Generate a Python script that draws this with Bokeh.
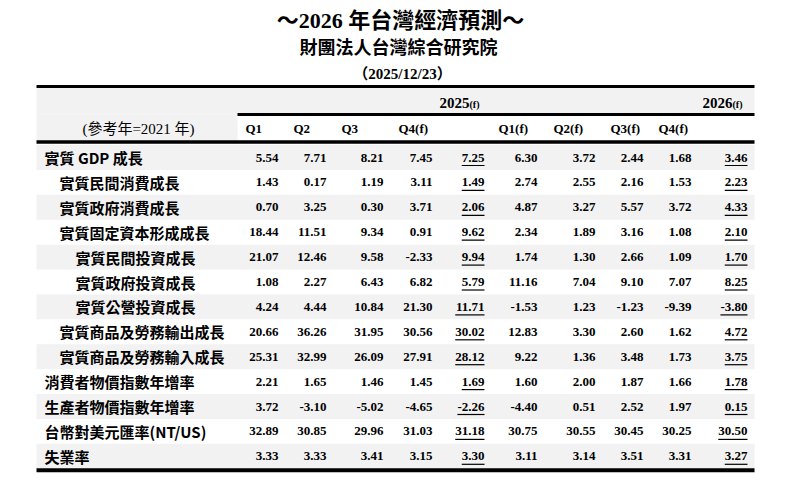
from bokeh.plotting import figure
from bokeh.models import Range1d, ColumnDataSource
from bokeh.core.properties import value
from bokeh.embed import file_html
from bokeh.resources import INLINE

# ---------------- data ----------------
title = "～2026 年台灣經濟預測～"
subtitle = "財團法人台灣綜合研究院"
date_text = "（2025/12/23）"
base_note = "(參考年=2021 年)"
year_heads = ["2025", "2026"]
quarter_heads = ["Q1", "Q2", "Q3", "Q4(f)", "Q1(f)", "Q2(f)", "Q3(f)", "Q4(f)"]

row_labels = ["實質 GDP 成長", "實質民間消費成長", "實質政府消費成長", "實質固定資本形成成長",
              "實質民間投資成長", "實質政府投資成長", "實質公營投資成長",
              "實質商品及勞務輸出成長", "實質商品及勞務輸入成長",
              "消費者物價指數年增率", "生產者物價指數年增率", "台幣對美元匯率(NT/US)", "失業率"]
row_levels = [0, 1, 1, 1, 2, 2, 2, 1, 1, 0, 0, 0, 0]

q1_2025 = [5.54, 1.43, 0.70, 18.44, 21.07, 1.08, 4.24, 20.66, 25.31, 2.21, 3.72, 32.89, 3.33]
q2_2025 = [7.71, 0.17, 3.25, 11.51, 12.46, 2.27, 4.44, 36.26, 32.99, 1.65, -3.10, 30.85, 3.33]
q3_2025 = [8.21, 1.19, 0.30, 9.34, 9.58, 6.43, 10.84, 31.95, 26.09, 1.46, -5.02, 29.96, 3.41]
q4_2025 = [7.45, 3.11, 3.71, 0.91, -2.33, 6.82, 21.30, 30.56, 27.91, 1.45, -4.65, 31.03, 3.15]
year_2025 = [7.25, 1.49, 2.06, 9.62, 9.94, 5.79, 11.71, 30.02, 28.12, 1.69, -2.26, 31.18, 3.30]
q1_2026 = [6.30, 2.74, 4.87, 2.34, 1.74, 11.16, -1.53, 12.83, 9.22, 1.60, -4.40, 30.75, 3.11]
q2_2026 = [3.72, 2.55, 3.27, 1.89, 1.30, 7.04, 1.23, 3.30, 1.36, 2.00, 0.51, 30.55, 3.14]
q3_2026 = [2.44, 2.16, 5.57, 3.16, 2.66, 9.10, -1.23, 2.60, 3.48, 1.87, 2.52, 30.45, 3.51]
q4_2026 = [1.68, 1.53, 3.72, 1.08, 1.09, 7.07, -9.39, 1.62, 1.73, 1.66, 1.97, 30.25, 3.31]
year_2026 = [3.46, 2.23, 4.33, 2.10, 1.70, 8.25, -3.80, 4.72, 3.75, 1.78, 0.15, 30.50, 3.27]

columns = [q1_2025, q2_2025, q3_2025, q4_2025, year_2025,
           q1_2026, q2_2026, q3_2026, q4_2026, year_2026]
underlined = [False, False, False, False, True, False, False, False, False, True]

# ---------------- layout (page pixels) ----------------
W, H = 784, 474
TL, TR = 36, 754                 # table left / right
col_right = [278, 326, 383, 432, 484, 537, 595, 643, 691, 747]
head_left = [245, 293, 341, 398, 498, 553, 610, 658]
year_right = [484, 747]
split_x = 237
top_line_y, mid_line_y, head_line_y = 86, 114, 141.5
row0, row_step = 157, 24.9
indent = [44, 59, 75]

SERIF = "'Liberation Serif', 'Noto Sans CJK TC'"
CJK = "'Noto Sans CJK TC', 'Liberation Serif'"
GRAY = "#f2f2f2"

p = figure(width=W, height=H, output_backend="svg", toolbar_location=None,
           x_range=Range1d(0, W), y_range=Range1d(H, 0),
           x_axis_type=None, y_axis_type=None, min_border=0,
           outline_line_color=None)
p.xgrid.visible = False
p.ygrid.visible = False
p.background_fill_color = "white"

# titles
p.text(x=[400], y=[20], text=[title], text_align="center", text_baseline="middle",
       text_font=value(SERIF), text_font_style="bold", text_font_size="22px", text_color="black")
p.text(x=[398], y=[47], text=[subtitle], text_align="center", text_baseline="middle",
       text_font=value(SERIF), text_font_style="bold", text_font_size="18px", text_color="black")
p.text(x=[402], y=[73], text=[date_text], text_align="center", text_baseline="middle",
       text_font=value(SERIF), text_font_style="bold", text_font_size="15px", text_color="black")

# header shading
p.quad(left=[TL, TL], right=[TR, split_x], top=[top_line_y, mid_line_y],
       bottom=[mid_line_y, head_line_y], fill_color=GRAY, line_color=None)

# row shading (alternate)
n = len(row_labels)
centers = [row0 + i * row_step for i in range(n)]
shade = [i for i in range(n) if i % 2 == 0]
p.quad(left=[TL] * len(shade), right=[TR] * len(shade),
       top=[centers[i] - row_step / 2 for i in shade],
       bottom=[centers[i] + row_step / 2 for i in shade],
       fill_color=GRAY, line_color=None)

# rules
last_bottom = centers[-1] + row_step / 2 + 1.5
p.segment(x0=[TL, split_x, TL, TL], x1=[TR, TR, TR, TR],
          y0=[top_line_y, mid_line_y, head_line_y, last_bottom],
          y1=[top_line_y, mid_line_y, head_line_y, last_bottom],
          line_color="black", line_width=[3, 3, 3.5, 4])

# header texts
year_y = 102
p.text(x=[xr - 15 for xr in year_right], y=[year_y] * 2, text=year_heads,
       text_align="right", text_baseline="middle", text_font=value(SERIF),
       text_font_style="bold", text_font_size="15px", text_color="black")
p.text(x=[xr - 15 for xr in year_right], y=[year_y + 2] * 2, text=["(f)"] * 2,
       text_align="left", text_baseline="middle", text_font=value(SERIF),
       text_font_style="bold", text_font_size="10px", text_color="black")
p.text(x=head_left, y=[128] * len(head_left), text=quarter_heads,
       text_align="left", text_baseline="middle", text_font=value(SERIF),
       text_font_style="bold", text_font_size="13px", text_color="black")
p.text(x=[138], y=[128], text=[base_note], text_align="center", text_baseline="middle",
       text_font=value(SERIF), text_font_size="15px", text_color="black")

# row labels
p.text(x=[indent[l] for l in row_levels], y=centers, text=row_labels,
       text_align="left", text_baseline="middle", text_font=value(CJK),
       text_font_style="bold", text_font_size="15px", text_color="black")


def text_width(s, size=13.0):
    w = 0.0
    for ch in s:
        if ch.isdigit():
            w += 0.5
        elif ch == ".":
            w += 0.25
        elif ch == "-":
            w += 0.333
        else:
            w += 0.5
    return w * size


# values
for ci, col in enumerate(columns):
    strs = [f"{v:.2f}" for v in col]
    src = ColumnDataSource(dict(x=[col_right[ci]] * n, y=centers, t=strs))
    p.text(x="x", y="y", text="t", source=src, text_align="right", text_baseline="middle",
           text_font=value(SERIF), text_font_style="bold", text_font_size="13px",
           text_color="black")
    if underlined[ci]:
        p.segment(x0=[col_right[ci] - text_width(s) for s in strs], x1=[col_right[ci]] * n,
                  y0=[c + 8 for c in centers], y1=[c + 8 for c in centers],
                  line_color="black", line_width=1.2)

open("out.html", "w").write(file_html(p, INLINE))
